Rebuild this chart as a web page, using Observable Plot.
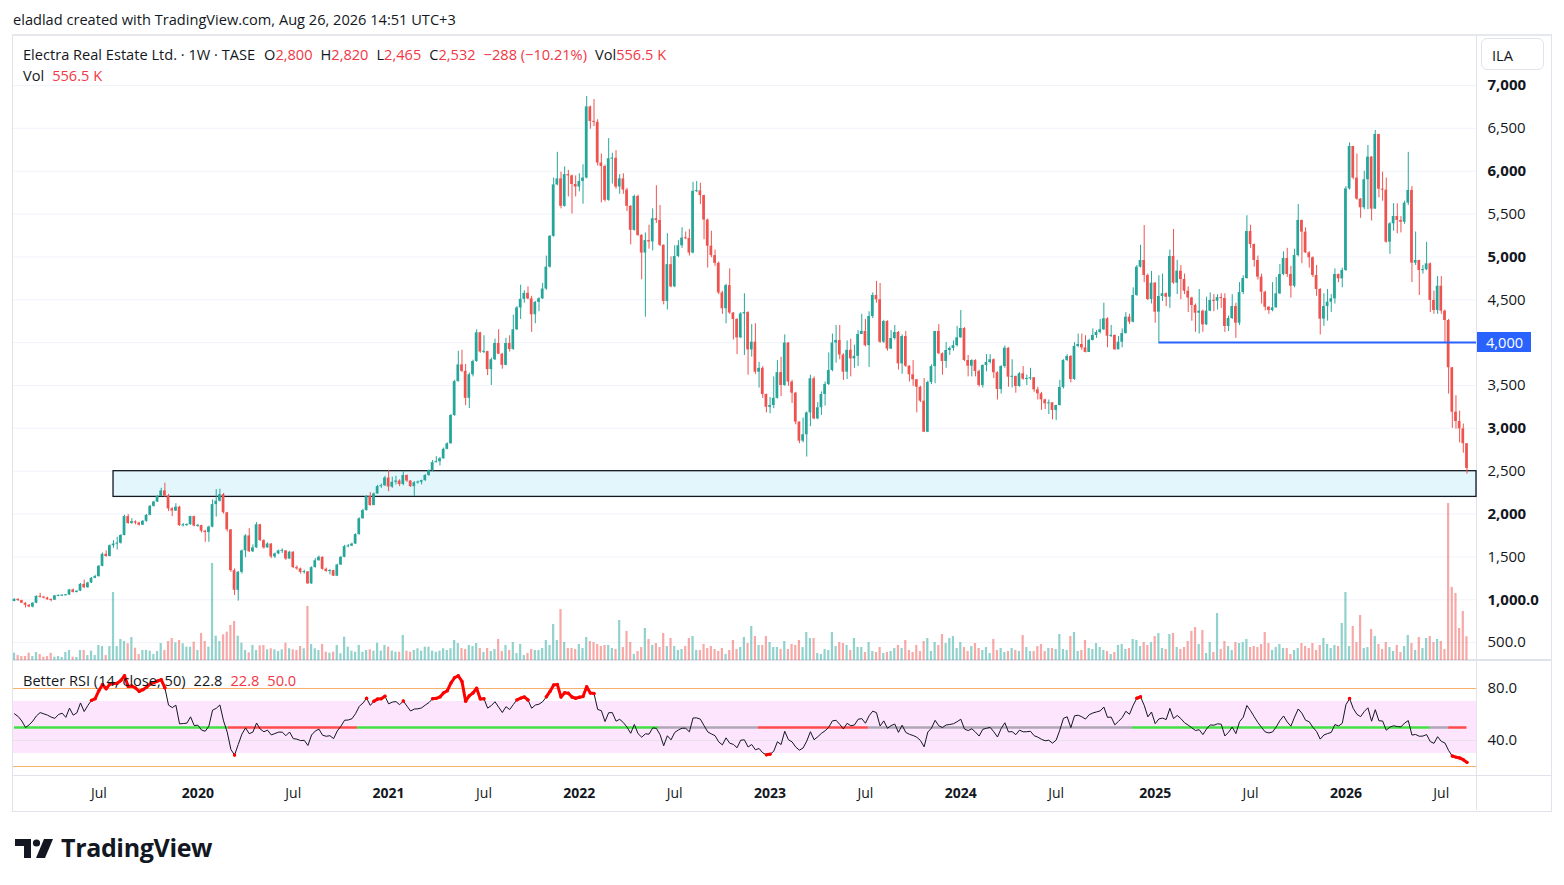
<!DOCTYPE html>
<html>
<head>
<meta charset="utf-8">
<script src="https://cdn.jsdelivr.net/npm/d3@7"></script>
<script src="https://cdn.jsdelivr.net/npm/@observablehq/plot@0.6"></script>
<style>
  html, body { margin: 0; padding: 0; background: #ffffff; }
  #root { position: relative; width: 1564px; height: 885px; overflow: hidden; font-family: "Open Sans", Roboto, sans-serif; color: #131722; }
  .abs { position: absolute; }
  .t { position: absolute; white-space: nowrap; font-size: 14.6px; line-height: 18px; color: #131722; }
  .r { color: #f23645; }
</style>
</head>
<body>
<div id="root">
  <div class="t" style="left:13px;top:10px;">eladlad created with TradingView.com, Aug 26, 2026 14:51 UTC+3</div>
  <!-- frame -->
  <div class="abs" style="left:12px;top:34px;width:1538px;height:775px;border:1px solid #e0e3eb;border-top:2px solid #e6e8ee;"></div>
  <div class="abs" style="left:1476px;top:35px;width:1px;height:775px;background:#e0e3eb;"></div>
  <div class="abs" style="left:13px;top:659px;width:1538px;height:2px;background:#e0e3eb;"></div>
  <div class="abs" style="left:13px;top:775px;width:1538px;height:1px;background:#e0e3eb;"></div>
  <div id="price" class="abs" style="left:0;top:35px;"></div>
  <div id="vol" class="abs" style="left:0;top:35px;pointer-events:none;"></div>
  <div id="rsi" class="abs" style="left:0;top:660px;"></div>
  <!-- legends -->
  <div class="t" style="left:23px;top:45px;">Electra Real Estate Ltd. · 1W · TASE<span style="margin-left:9px">O</span><span class="r">2,800</span><span style="margin-left:8px">H</span><span class="r">2,820</span><span style="margin-left:8px">L</span><span class="r">2,465</span><span style="margin-left:8px">C</span><span class="r">2,532</span><span class="r" style="margin-left:8px">−288 (−10.21%)</span><span style="margin-left:8px">Vol</span><span class="r">556.5 K</span></div>
  <div class="t" style="left:23px;top:66px;">Vol<span class="r" style="margin-left:8px">556.5 K</span></div>
  <div class="t" style="left:23px;top:671px;">Better RSI (14, close, 50)<span style="margin-left:8px">22.8</span><span class="r" style="margin-left:8px">22.8</span><span class="r" style="margin-left:8px">50.0</span></div>
  <div class="abs" style="left:1481px;top:38px;width:63px;height:32px;border:1px solid #e0e3eb;border-radius:6px;box-sizing:border-box;"></div>
  <div class="t" style="left:1492px;top:46px;">ILA</div>
  <div class="abs" style="left:1477px;top:332px;width:54px;height:20px;background:#2962ff;color:#fff;font-size:14.6px;line-height:20px;padding-left:9px;box-sizing:border-box;">4,000</div>
  <!-- logo -->
  <svg class="abs" style="left:15px;top:838px;" width="40" height="22" viewBox="0 0 40 22">
    <path d="M0 1h16v19h-7v-12h-9z" fill="#131722"/>
    <circle cx="21.5" cy="5" r="3.6" fill="#131722"/>
    <path d="M29 1h9l-8 19h-9z" fill="#131722"/>
  </svg>
  <div class="abs" style="left:61px;top:831px;font-size:25px;line-height:32px;font-weight:700;letter-spacing:-0.35px;color:#131722;">TradingView</div>
</div>
<script>
// ---------------- data ----------------
const startDate = "2019-01-21";   // first weekly bar
const firstOpen = 980;
const closes = [
1005,990,960,935,915,960,1040,1030,1020,1000,
995,1045,1045,1050,1055,1115,1085,1100,1180,1140,
1195,1250,1270,1390,1530,1505,1630,1650,1660,1750,
1970,1890,1910,1895,1870,1915,1985,2090,2140,2205,
2270,2210,2060,2035,2080,1865,1870,1875,1970,1860,
1865,1800,1785,1847,2110,2150,2225,2015,1815,1340,
1110,1320,1570,1745,1560,1605,1875,1690,1605,1650,
1500,1535,1570,1570,1475,1555,1375,1360,1320,1325,
1185,1375,1455,1495,1355,1330,1340,1275,1405,1495,
1620,1625,1650,1760,1945,2040,2205,2100,2235,2320,
2330,2420,2315,2370,2385,2345,2450,2385,2320,2365,
2370,2390,2450,2505,2600,2610,2645,2755,2820,3150,
3545,3740,3665,3350,3625,3780,4115,3890,3895,3685,
3800,3990,3865,3735,3990,3920,4150,4405,4505,4575,
4510,4325,4470,4510,4625,4880,5240,5840,5910,5590,
5960,5945,5845,5815,5880,5920,6750,6580,6570,6095,
6055,5660,6145,6150,5815,5910,5780,5590,5310,5705,
5250,5045,5190,5175,5445,5425,5135,4480,4910,4650,
5005,5130,5220,5215,5045,5765,5770,5715,5430,5125,
5015,4925,4580,4395,4665,4345,4270,4055,4335,4350,
3915,4005,3655,3700,3395,3245,3266,3350,3650,3500,
3995,3540,3410,3072,2850,2925,3180,3578,3110,3240,
3395,3511,3675,3995,4025,3855,3655,3910,3810,3840,
4095,4130,3965,4305,4550,4500,4005,4246,3925,4048,
4118,3752,4071,3725,3625,3566,3480,3317,2955,3535,
3720,4130,3870,3780,3908,3932,3965,4056,4165,3791,
3725,3791,3663,3500,3733,3768,3800,3648,3453,3721,
3935,3597,3605,3488,3636,3574,3577,3590,3449,3402,
3332,3286,3297,3208,3266,3476,3792,3838,3570,3955,
3978,3939,3885,4025,4083,4118,4150,4278,4075,4083,
3916,4005,4105,4297,4238,4550,4880,4958,4783,4503,
4694,4355,4538,4570,4530,5005,4694,4834,4736,4600,
4520,4433,4343,4367,4207,4367,4492,4483,4525,4515,
4188,4281,4421,4227,4584,4748,5296,5145,4958,4764,
4588,4413,4374,4405,4569,4795,4981,4795,4658,5016,
5425,5289,5047,4990,4783,4620,4274,4421,4472,4511,
4795,4744,4842,5794,6288,5919,5674,5573,5900,6164,
5557,6428,5790,5779,5172,5386,5471,5425,5405,5627,
5775,4927,4958,4842,4850,4919,4492,4375,4658,4367,
4258,3706,3188,3080,2994,2820,2532];
const highs = [
1012,1010,995,965,945,965,1045,1075,1040,1030,
1010,1050,1055,1058,1060,1120,1125,1105,1190,1230,
1205,1260,1285,1400,1545,1570,1640,1690,1730,1760,
1985,1995,1945,1920,1905,1925,1995,2100,2150,2215,
2300,2360,2230,2075,2120,2090,1890,1885,1975,1975,
1880,1870,1810,1860,2165,2285,2290,2240,2020,1820,
1360,1330,1580,1760,1830,1640,1900,1880,1700,1665,
1655,1545,1580,1595,1575,1565,1560,1395,1370,1345,
1330,1385,1480,1510,1500,1370,1350,1345,1415,1505,
1635,1645,1660,1770,1955,2055,2215,2250,2245,2335,
2350,2440,2510,2430,2440,2400,2500,2455,2390,2380,
2385,2395,2460,2515,2625,2670,2660,2770,2830,3160,
3560,3900,3910,3745,3645,3795,4150,4120,4080,3900,
3820,4040,4150,3875,4050,4080,4320,4420,4670,4605,
4650,4540,4480,4525,4690,5010,5250,5920,6220,5990,
6050,6010,5955,5945,5970,6075,6870,6760,6835,6600,
6200,6070,6380,6210,6240,5960,5970,5800,5600,5720,
5720,5260,5280,5370,5560,5830,5600,5140,5270,5000,
5130,5190,5340,5290,5320,5870,5880,5860,5720,5440,
5300,5080,4940,4600,4680,4860,4350,4280,4350,4570,
4360,4210,4220,3770,3720,3400,3360,3600,3790,3830,
4090,4000,3560,3420,3075,3120,3190,3620,3600,3300,
3425,3540,3880,4100,4200,4200,3870,4020,4040,3970,
4140,4330,4270,4360,4580,4715,4690,4260,4255,4140,
4200,4130,4090,4130,3730,3790,3570,3490,3580,3550,
3740,4130,4210,3880,4000,3950,4020,4190,4375,4175,
3850,3800,3800,3680,3740,3860,3860,3810,3660,3730,
3960,3940,3800,3610,3650,3720,3620,3700,3590,3480,
3420,3340,3330,3300,3270,3560,3800,3860,3850,4000,
4100,4100,4080,4040,4160,4140,4270,4460,4290,4200,
4090,4070,4160,4350,4330,4640,4900,5135,5366,4800,
4830,4700,4780,4800,4580,5080,5320,4960,4900,4800,
4650,4530,4450,4620,4380,4530,4580,4560,4560,4570,
4570,4310,4560,4460,4700,4780,5480,5370,5150,5010,
4800,4600,4420,4700,4760,4910,5060,5100,4890,5090,
5610,5430,5340,5060,5000,4900,4630,4570,4620,4560,
4860,4800,4870,5820,6330,6290,6200,5680,6000,6300,
6170,6475,6430,5990,5920,5400,5620,5620,5470,5650,
6220,5820,5290,4960,4900,5170,4930,4600,4770,4770,
4380,4270,3710,3380,3200,3050,2820];
const lows = [
975,980,955,905,908,905,955,1020,1010,995,
975,990,1035,1040,1045,1050,1078,1080,1095,1130,
1135,1190,1245,1265,1385,1495,1500,1600,1580,1650,
1745,1880,1880,1875,1860,1865,1905,1980,2080,2135,
2200,2195,2030,1970,2030,1855,1850,1855,1870,1850,
1845,1780,1670,1670,1840,1965,2140,2000,1790,1320,
1050,985,1300,1490,1550,1550,1600,1680,1590,1600,
1480,1480,1525,1540,1460,1470,1365,1345,1300,1300,
1180,1180,1370,1450,1345,1320,1290,1270,1270,1400,
1490,1605,1620,1645,1755,1940,2035,2090,2095,2230,
2300,2320,2260,2300,2340,2320,2330,2370,2310,2205,
2350,2340,2380,2440,2495,2595,2560,2640,2750,2815,
3140,3540,3650,3265,3230,3600,3770,3875,3870,3615,
3500,3790,3860,3690,3730,3890,3910,4140,4270,4460,
4500,4120,4220,4360,4505,4610,4870,5230,5830,5560,
5580,5700,5500,5700,5760,5615,5910,6490,6520,6060,
5630,5640,5650,5850,5790,5730,5730,5530,5140,5300,
5240,4733,4297,5090,5070,5390,5120,4440,4380,4640,
4640,4990,5100,5200,5010,5035,5750,5610,5200,4870,
4990,4890,4560,4330,4220,4330,4030,3860,4050,3850,
3620,3830,3630,3470,3350,3180,3170,3230,3340,3370,
3490,3490,3290,3040,2820,2830,2665,3020,3100,3100,
3150,3260,3500,3660,3760,3800,3560,3570,3600,3700,
3720,4100,3950,3710,4280,4460,3990,3990,3900,3920,
4030,3680,3630,3710,3540,3490,3180,3300,2950,2950,
3510,3520,3860,3620,3700,3850,3900,3950,4050,3780,
3600,3600,3600,3480,3470,3660,3750,3580,3330,3400,
3700,3480,3470,3410,3480,3560,3500,3560,3420,3330,
3210,3220,3160,3100,3090,3260,3460,3780,3530,3560,
3940,3910,3880,3920,4020,4050,4100,4140,3940,4060,
3910,3930,3940,4100,4210,4230,4540,4870,4700,4490,
4450,4226,4005,4480,4420,4400,4680,4560,4500,4560,
4350,4250,4120,4100,4120,4200,4360,4360,4380,4400,
4120,4130,4270,4050,4200,4560,4740,5100,4880,4730,
4450,4370,4330,4360,4530,4560,4780,4760,4520,4640,
5000,4920,5040,4870,4760,4540,4090,4190,4250,4350,
4450,4700,4640,4830,5780,5900,5660,5450,5550,5550,
5420,5650,5690,5650,5160,5030,5300,5270,5280,5380,
5600,4700,4900,4550,4800,4840,4350,4330,4330,4330,
4000,3400,3000,2990,2830,2710,2465];
const volumes = [ // thousands
372,346,335,335,372,335,380,358,327,335,
372,327,335,324,380,403,327,324,403,403,
346,395,346,459,447,346,447,1053,447,526,
503,478,548,428,358,403,403,395,358,391,
481,403,503,537,489,515,478,440,440,496,
403,593,503,440,1378,563,503,579,608,683,
728,563,484,403,377,459,403,455,459,410,
422,410,391,410,484,422,410,403,447,422,
896,470,422,403,470,383,372,383,459,366,
552,440,395,383,459,383,403,410,395,484,
395,459,440,395,383,383,571,395,383,403,
422,395,440,440,395,383,395,422,403,422,
515,481,425,414,459,447,481,425,380,425,
391,414,526,391,459,403,492,369,470,346,
369,414,403,403,425,515,459,694,515,862,
492,425,425,414,470,425,548,503,492,470,
447,459,459,425,414,739,436,616,492,358,
391,436,649,526,459,481,436,593,447,537,
447,403,414,447,537,559,403,403,470,425,
447,414,391,425,358,403,515,414,436,548,
481,672,559,459,459,559,492,436,436,414,
503,414,470,459,515,436,604,537,537,369,
358,414,403,604,447,492,481,459,403,537,
436,436,380,492,391,380,436,369,380,391,
425,459,425,515,403,380,459,391,503,537,
391,492,459,582,481,537,559,425,492,436,
391,447,481,425,403,436,369,526,403,425,
380,391,425,403,391,571,436,391,391,447,
470,391,425,425,414,582,414,403,559,604,
391,403,515,425,414,481,436,403,391,358,
380,459,470,414,425,526,515,447,492,459,
492,559,593,425,414,582,593,436,414,436,
503,616,660,470,627,369,492,380,817,414,
503,447,403,492,481,492,526,436,447,436,
470,604,481,403,436,470,425,425,358,403,
425,481,447,425,481,403,459,537,470,425,
459,447,705,1053,447,672,492,795,425,436,
638,559,470,414,492,436,391,459,380,447,
571,481,403,548,425,537,559,492,526,503,
414,2050,1109,1042,649,840,556.5];
// RSI values read for the first 14 weeks (before a 14-week history exists)
const rsiHead = [60.5,58.5,55,50,52,55,59,61.5,60.5,59.5,58,57,60,61];

// price scale ticks
const priceTicks = [500,1000,1500,2000,2500,3000,3500,4000,4500,5000,5500,6000,6500,7000];
const priceTickLabels = ["500.0","1,000.0","1,500","2,000","2,500","3,000","3,500","4,000","4,500","5,000","5,500","6,000","6,500","7,000"];
const boldPriceTicks = [1000,2000,3000,5000,6000,7000];
const hiddenPriceTicks = [4000];
// time axis
const tickMonths = ["2019-07","2020-01","2020-07","2021-01","2021-07","2022-01","2022-07","2023-01","2023-07","2024-01","2024-07","2025-01","2025-07","2026-01","2026-07"];
const tickLabels = ["Jul","2020","Jul","2021","Jul","2022","Jul","2023","Jul","2024","Jul","2025","Jul","2026","Jul"];
// drawings
const zoneLow = 2200, zoneHigh = 2500, zoneStartBar = 27;
const levelPrice = 4000, levelStartBar = 312;
// RSI midline state segments (bar index ranges)
const midFrom  = [0, 58.3, 93.5, 175.6, 202.8, 232.8, 304.8, 386, 391];
const midTo    = [58.3, 93.5, 175.6, 202.8, 232.8, 304.8, 386, 391, 396];
const midState = ["up","down","up","flat","down","flat","up","flat","down"];
const rsiTicks = [80, 40];

// ---------------- build ----------------
const UP = "#26a69a", DN = "#ef5350";
const UPV = "rgba(38,166,154,0.5)", DNV = "rgba(239,83,80,0.5)";
const FONT = "'Open Sans', Roboto, sans-serif";
const W = 1564;
const xDomain = [-0.27, 398.6];

const bars = closes.map((c, i) => {
  const o = i === 0 ? firstOpen : closes[i - 1];
  const up = c >= o;
  let top = Math.max(o, c), bot = Math.min(o, c);
  if (top - bot < 12) { const m = (top + bot) / 2; top = m + 6; bot = m - 6; }
  return {
    i, o, c, top, bot,
    h: Math.max(highs[i], o, c), l: Math.min(lows[i], o, c),
    v: volumes[i], col: up ? UP : DN, vcol: up ? UPV : DNV
  };
});

const fmtPrice = d => priceTickLabels[priceTicks.indexOf(d)];
const normalTicks = priceTicks.filter(t => !boldPriceTicks.includes(t) && !hiddenPriceTicks.includes(t));
const styleBase = {background: "transparent", fontFamily: FONT, fontSize: "15px", color: "#131722", overflow: "visible"};

const pricePlot = Plot.plot({
  width: W, height: 625, marginLeft: 13, marginRight: 88, marginTop: 0, marginBottom: 0,
  x: {domain: xDomain, axis: null},
  y: {domain: [291.4, 7583], axis: null},
  color: {type: "identity"},
  style: styleBase,
  marks: [
    Plot.ruleY(priceTicks, {stroke: "#f0f3fa", strokeWidth: 1}),
    Plot.rect([{}], {x1: zoneStartBar, x2: xDomain[1], y1: zoneLow, y2: zoneHigh, fill: "#e3f6fb", stroke: "#131722", strokeWidth: 1.3}),
    Plot.ruleX(bars, {x: "i", y1: "l", y2: "h", stroke: "col", strokeWidth: 1}),
    Plot.rect(bars, {x1: d => d.i - 0.37, x2: d => d.i + 0.37, y1: "bot", y2: "top", fill: "col"}),
    Plot.ruleY([levelPrice], {x1: levelStartBar, x2: xDomain[1], stroke: "#2962ff", strokeWidth: 2}),
    Plot.axisY(normalTicks, {anchor: "right", tickSize: 0, tickPadding: 11, tickFormat: fmtPrice}),
    Plot.axisY(boldPriceTicks, {anchor: "right", tickSize: 0, tickPadding: 11, tickFormat: fmtPrice, fontWeight: "bold"})
  ]
});
document.getElementById("price").appendChild(pricePlot);

const volPlot = Plot.plot({
  width: W, height: 625, marginLeft: 13, marginRight: 88, marginTop: 0, marginBottom: 0,
  x: {domain: xDomain, axis: null},
  y: {domain: [290.4, 7297], axis: null},
  color: {type: "identity"},
  style: styleBase,
  marks: [
    Plot.rect(bars, {x1: d => d.i - 0.3, x2: d => d.i + 0.3, y1: 0, y2: "v", fill: "vcol", clip: true})
  ]
});
document.getElementById("vol").appendChild(volPlot);

// RSI (Wilder, 14) computed from the weekly closes
function wilderRSI(values, n) {
  const out = values.map(() => NaN);
  let g = 0, l = 0;
  for (let i = 1; i <= n; i++) { const d = values[i] - values[i - 1]; if (d > 0) g += d; else l -= d; }
  g /= n; l /= n;
  out[n] = l === 0 ? 100 : 100 - 100 / (1 + g / l);
  for (let i = n + 1; i < values.length; i++) {
    const d = values[i] - values[i - 1];
    g = (g * (n - 1) + Math.max(d, 0)) / n;
    l = (l * (n - 1) + Math.max(-d, 0)) / n;
    out[i] = l === 0 ? 100 : 100 - 100 / (1 + g / l);
  }
  rsiHead.forEach((v, i) => { if (i < n) out[i] = v; });
  return out;
}
const rsiVals = wilderRSI(closes, 14);
const rsiData = rsiVals.map((r, i) => ({i, r, hot: (r >= 70 || r <= 30) ? r : NaN}));
const hotData = rsiData.filter(d => !isNaN(d.hot));
const stateColor = {up: "#43e043", down: "#ff4b4b", flat: "rgba(120,123,134,0.6)"};
const midSegs = midFrom.map((f, k) => ({from: f, to: midTo[k], col: stateColor[midState[k]]}));

const start = new Date(startDate + "T00:00:00Z");
const tickIdx = tickMonths.map(m => Math.ceil((new Date(m + "-01T00:00:00Z") - start) / (7 * 864e5)));
const labelOf = new Map(tickIdx.map((t, k) => [t, tickLabels[k]]));
const yearTicks = tickIdx.filter((t, k) => !tickLabels[k].startsWith("J"));
const monthTicks = tickIdx.filter((t, k) => tickLabels[k].startsWith("J"));

const rsiPlot = Plot.plot({
  width: W, height: 150, marginLeft: 13, marginRight: 88, marginTop: 0, marginBottom: 35,
  x: {domain: xDomain, axis: null},
  y: {domain: [13.08, 101.54], axis: null},
  color: {type: "identity"},
  style: styleBase,
  marks: [
    Plot.rect([{}], {x1: xDomain[0], x2: xDomain[1], y1: 30, y2: 70, fill: "#fde5fd"}),
    Plot.ruleY([40], {stroke: "#e6e1ea", strokeWidth: 1}),
    Plot.ruleY([80, 20], {stroke: "#f7b36b", strokeWidth: 1}),
    Plot.ruleY(midSegs, {y: 50, x1: "from", x2: "to", stroke: "col", strokeWidth: 2.5}),
    Plot.line(rsiData, {x: "i", y: "r", stroke: "#131722", strokeWidth: 1}),
    Plot.line(rsiData, {x: "i", y: "hot", stroke: "#ff0000", strokeWidth: 3}),
    Plot.dot(hotData, {x: "i", y: "r", r: 1.7, fill: "#ff0000"}),
    Plot.axisY(rsiTicks, {anchor: "right", tickSize: 0, tickPadding: 11, tickFormat: d3.format(".1f")}),
    Plot.axisX(yearTicks, {anchor: "bottom", tickSize: 0, tickPadding: 13, tickFormat: d => labelOf.get(d), fontWeight: "bold", fontSize: 14}),
    Plot.axisX(monthTicks, {anchor: "bottom", tickSize: 0, tickPadding: 13, tickFormat: d => labelOf.get(d), fontSize: 14})
  ]
});
document.getElementById("rsi").appendChild(rsiPlot);
</script>
</body>
</html>
